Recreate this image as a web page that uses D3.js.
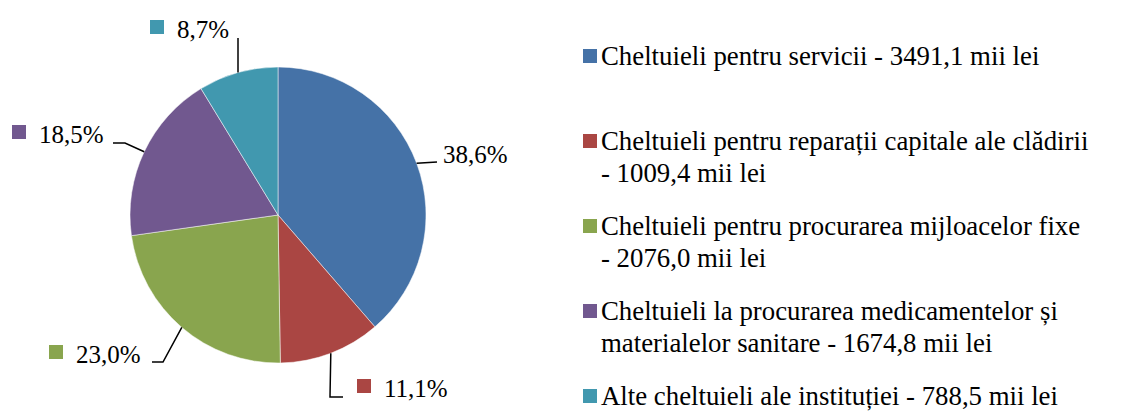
<!DOCTYPE html>
<html>
<head>
<meta charset="utf-8">
<script src="https://cdn.jsdelivr.net/npm/d3@7"></script>
<style>
  body { margin: 0; background: #fff; }
</style>
</head>
<body>
<div id="chart"></div>
<script>
// data
var categories = [
  "Cheltuieli pentru servicii ",
  "Cheltuieli pentru reparații capitale ale clădirii\n",
  "Cheltuieli pentru procurarea mijloacelor fixe\n",
  "Cheltuieli la procurarea medicamentelor și\nmaterialelor sanitare ",
  "Alte cheltuieli ale instituției "
];
var amounts = [3491.1, 1009.4, 2076.0, 1674.8, 788.5];
var percents = [38.6, 11.1, 23.0, 18.5, 8.7];
var colors = ["#4572A7", "#AA4643", "#89A54E", "#71588F", "#4198AF"];

// svg params
var svgWidth = 1142, svgHeight = 412;
var cx = 278, cy = 215, radius = 148;
var font = "Liberation Serif";

var svg = d3.select("#chart").append("svg")
  .attr("width", svgWidth)
  .attr("height", svgHeight);

var comma = function(v) { return d3.format(".1f")(v).replace(".", ","); };

var pie = d3.pie().sort(null).value(d => d)(percents);
var arc = d3.arc().innerRadius(0).outerRadius(radius);

var pieGroup = svg.append("g").attr("transform", `translate(${cx}, ${cy})`);
pieGroup.selectAll("path")
  .data(pie)
  .enter()
  .append("path")
  .attr("d", arc)
  .attr("fill", (d, i) => colors[i])
  .attr("stroke", "#fff")
  .attr("stroke-width", 0.5);

// data label layout: text start, baseline, legend key shown, leader bends
var labelLayout = [
  { tx: 443, ty: 163, key: false, bends: [[437, 162]] },
  { tx: 384, ty: 397, key: true, bends: [[330, 397], [343, 397]] },
  { tx: 76, ty: 363, key: true, bends: [[163, 362], [152, 362]] },
  { tx: 39, ty: 143, key: true, bends: [[125, 143], [113, 143]] },
  { tx: 177, ty: 38, key: true, bends: [[238, 38]] }
];

var line = d3.line();
pie.forEach(function(d, i) {
  var lay = labelLayout[i];
  var mid = (d.startAngle + d.endAngle) / 2;
  var edge = [cx + radius * Math.sin(mid), cy - radius * Math.cos(mid)];
  svg.append("path")
    .attr("d", line([edge].concat(lay.bends)))
    .attr("fill", "none")
    .attr("stroke", "#000")
    .attr("stroke-width", 1.5);
  if (lay.key) {
    svg.append("rect")
      .attr("x", lay.tx - 27)
      .attr("y", lay.ty - 18)
      .attr("width", 14)
      .attr("height", 14)
      .attr("fill", colors[i]);
  }
  svg.append("text")
    .attr("x", lay.tx)
    .attr("y", lay.ty)
    .style("font-family", font)
    .style("font-size", "25px")
    .text(comma(percents[i]) + "%");
});

// legend
var legendX = 583, legendTop = 65, legendStep = 85, lineHeight = 32;
var legend = svg.append("g");
categories.forEach(function(name, i) {
  var y = legendTop + i * legendStep;
  legend.append("rect")
    .attr("x", legendX)
    .attr("y", y - 16)
    .attr("width", 14)
    .attr("height", 14)
    .attr("fill", colors[i]);
  var lines = (name + "- " + comma(amounts[i]) + " mii lei").split("\n");
  var t = legend.append("text")
    .attr("x", legendX + 18)
    .attr("y", y)
    .style("font-family", font)
    .style("font-size", "26.8px");
  lines.forEach(function(l, j) {
    t.append("tspan")
      .attr("x", legendX + 18)
      .attr("dy", j == 0 ? 0 : lineHeight)
      .text(l);
  });
});
</script>
</body>
</html>
